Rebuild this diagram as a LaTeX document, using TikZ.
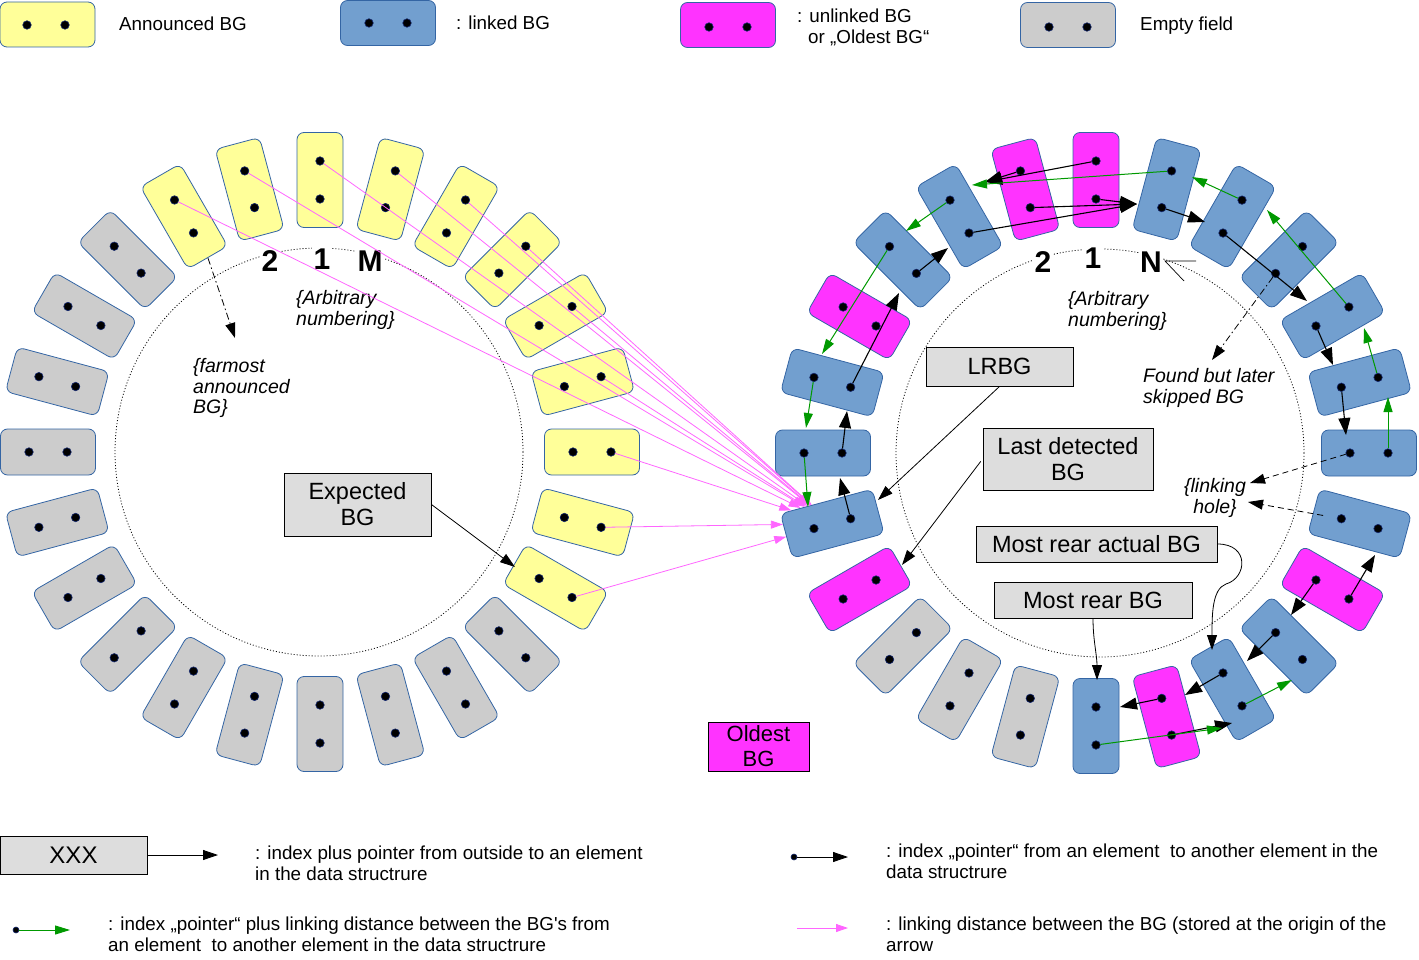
\documentclass[tikz,border=0pt]{standalone}
\usepackage{fontspec}
\setmainfont{Liberation Sans}
\usetikzlibrary{arrows.meta}
\definecolor{yel}{RGB}{255,255,153}
\definecolor{blu}{RGB}{114,159,207}
\definecolor{pnk}{RGB}{255,51,255}
\definecolor{gry}{RGB}{204,204,204}
\definecolor{bord}{RGB}{52,101,164}
\definecolor{boxg}{RGB}{221,221,221}
\definecolor{grn}{RGB}{0,153,0}
\definecolor{pline}{RGB}{255,102,255}
\definecolor{dotb}{RGB}{20,40,110}
\begin{document}
\begin{tikzpicture}[x=1pt,y=-1pt,
  elem/.style={draw=bord,line width=0.8pt,rounded corners=7pt,minimum width=95pt,minimum height=46pt,inner sep=0pt},
  dot/.style={circle,fill=black,draw=dotb,line width=0.6pt,inner sep=0pt,minimum size=8.5pt},
  lbox/.style={draw=bord,line width=0.8pt,rounded corners=7pt,minimum width=95pt,minimum height=45pt,inner sep=0pt},
  tbox/.style={draw=black,fill=boxg,line width=0.9pt,inner sep=0pt,align=center,font=\fontsize{23.5}{26}\selectfont},
  blk/.style={draw=black,line width=1.1pt,-{Triangle[length=17pt,width=12pt]}},
  gar/.style={draw=grn,line width=1pt,-{Triangle[length=15pt,width=9pt]}},
  par/.style={draw=pline,line width=0.8pt,-{Triangle[length=12pt,width=8pt]}},
  tar/.style={draw=black,line width=0.8pt,-{Triangle[length=15pt,width=10pt]}},
  dar/.style={tar,dash pattern=on 6pt off 4pt},
  ddar/.style={tar,dash pattern=on 7pt off 3pt on 1.5pt off 3pt},
  lbl/.style={inner sep=0pt,anchor=base west,font=\fontsize{18.8}{21}\selectfont},
  mlbl/.style={inner sep=0pt,anchor=north west,align=left,font=\fontsize{18.8}{20.5}\selectfont},
  ilbl/.style={inner sep=0pt,anchor=north west,align=left,font=\fontsize{19.5}{20.5}\selectfont\itshape},
  num/.style={inner sep=1.5pt,fill=white,font=\fontsize{30}{30}\selectfont\bfseries},
]
\useasboundingbox (0,0) rectangle (1419,960);

% ---------- top legend ----------
\node[lbox,fill=yel] (LgY) at (47.5,24.5) {};
\node[dot] (LgY-1) at (27,25) {};
\node[dot] (LgY-2) at (65,25) {};
\node[lbl] (LgYt) at (119,31) {Announced BG};
\node[lbox,fill=blu] (LgB) at (388,23) {};
\node[dot] (LgB-1) at (369,23) {};
\node[dot] (LgB-2) at (407,23) {};
\node[lbl] (LgBt) at (456,30) {: linked BG};
\node[lbox,fill=pnk] (LgP) at (728,25) {};
\node[dot] (LgP-1) at (709,27) {};
\node[dot] (LgP-2) at (747,27) {};
\node[mlbl] (LgPt) at (797,9) {: unlinked BG\\\hspace*{11pt}or „Oldest BG“};
\node[lbox,fill=gry] (LgG) at (1068,25) {};
\node[dot] (LgG-1) at (1049,27) {};
\node[dot] (LgG-2) at (1087,27) {};
\node[lbl] (LgGt) at (1140,31) {Empty field};

% ---------- dotted circles ----------
\draw[line width=0.8pt,dash pattern=on 1pt off 2pt] (319,452) circle[radius=204pt];
\draw[line width=0.8pt,dash pattern=on 1pt off 2pt] (1100,453) circle[radius=204pt];

% ---------- left ring ----------
\foreach \k/\c in {0/yel,1/yel,2/yel,3/yel,4/yel,5/yel,6/yel,7/yel,8/yel,9/gry,10/gry,11/gry,12/gry,13/gry,14/gry,15/gry,16/gry,17/gry,18/gry,19/gry,20/gry,21/gry,22/yel,23/yel}{
  \pgfmathsetmacro\a{15*\k}
  \pgfmathsetmacro\r{90-15*\k}
  \node[elem,fill=\c,rotate=\r] (L\k) at ({320+272*sin(\a)},{452-272*cos(\a)}) {};
  \node[dot] (L\k-o) at ({320+291*sin(\a)},{452-291*cos(\a)}) {};
  \node[dot] (L\k-i) at ({320+253*sin(\a)},{452-253*cos(\a)}) {};
}

% ---------- right ring ----------
\foreach \k/\c in {0/pnk,1/blu,2/blu,3/blu,4/blu,5/blu,6/blu,7/blu,8/pnk,9/blu,10/blu,11/pnk,12/blu,13/gry,14/gry,15/gry,16/pnk,17/blu,18/blu,19/blu,20/pnk,21/blu,22/blu,23/pnk}{
  \pgfmathsetmacro\a{15*\k}
  \pgfmathsetmacro\r{90-15*\k}
  \node[elem,fill=\c,rotate=\r] (R\k) at ({1096+273*sin(\a)},{453-273*cos(\a)}) {};
  \node[dot] (R\k-o) at ({1096+292*sin(\a)},{453-292*cos(\a)}) {};
  \node[dot] (R\k-i) at ({1096+254*sin(\a)},{453-254*cos(\a)}) {};
}

% ---------- numbers and labels ----------
\node[num] (nL2) at (270,261) {2};
\node[num] (nL1) at (322,259) {1};
\node[num] (nLM) at (370,261) {M};
\node[num] (nR2) at (1043,262) {2};
\node[num] (nR1) at (1093,258) {1};
\node[num] (nRN) at (1151,262) {N};

\node[ilbl] (farm) at (193,358.5) {\{farmost\\announced\\BG\}};
\node[ilbl] (arbL) at (296,290.5) {\{Arbitrary\\numbering\}};
\node[ilbl] (arbR) at (1068,291.5) {\{Arbitrary\\numbering\}};
\node[ilbl] (found) at (1143,368.5) {Found but later\\skipped BG};
\node[ilbl,anchor=north,align=center] (hole) at (1215,478.5) {\{linking\\hole\}};

% ---------- pointer boxes ----------
\node[tbox,minimum width=147pt,minimum height=63pt] (Exp) at (357.5,504.5) {Expected\\BG};
\node[tbox,minimum width=147pt,minimum height=39pt] (LRBG) at (999.5,366.5) {LRBG};
\node[tbox,minimum width=170pt,minimum height=62pt] (LDet) at (1068,459) {Last detected\\BG};
\node[tbox,minimum width=241pt,minimum height=36pt] (MRA) at (1096.5,544) {Most rear actual BG};
\node[tbox,minimum width=198pt,minimum height=36pt] (MRB) at (1093,600) {Most rear BG};
\node[tbox,fill=pnk,minimum width=101pt,minimum height=49pt,font=\fontsize{22}{25}\selectfont] (Old) at (758.5,746.5) {Oldest\\BG};

% ---------- arrow end points ----------
\coordinate (tA) at (985,182);
\coordinate (tB) at (1137,204);
\coordinate (tC) at (1205,222);
\coordinate (tD) at (1307,301);
\coordinate (tE) at (948,248);
\coordinate (tF) at (899,293);
\coordinate (tG) at (847,411);
\coordinate (tH) at (840,478);
\coordinate (tI) at (1333,365);
\coordinate (tJ) at (1346,435);
\coordinate (tK) at (1375,555);
\coordinate (tL) at (1291,615);
\coordinate (tM) at (1247,661);
\coordinate (tN) at (1185,695);
\coordinate (tO) at (1120,707);
\coordinate (tP) at (1232,723);
\coordinate (gA) at (972,185);
\coordinate (gB) at (1192,177);
\coordinate (gC) at (1267,210);
\coordinate (gD) at (906,231);
\coordinate (gE) at (822,354);
\coordinate (gF) at (806,428);
\coordinate (gG) at (808,507);
\coordinate (gH) at (1364,328);
\coordinate (gI) at (1388,397);
\coordinate (gJ) at (1292,680);
\coordinate (gK) at (1222,728);
\coordinate (hA) at (1250,483);
\coordinate (hB) at (1248,502);
\coordinate (fA) at (1212,360);
\coordinate (lA) at (235,338);
\coordinate (eA) at (515,567);
\coordinate (eB) at (878,500);
\coordinate (eC) at (902,565);
\coordinate (eD) at (1212,650);
\coordinate (eE) at (1097,680);
\coordinate (nA) at (1196,261);
\coordinate (nT) at (1165,261);
\coordinate (nB) at (1184,281);

% ---------- pink arrows ----------
\foreach \k in {22,23,0,1,2,3,4,5,6,7,8}{
  \draw[par] (L\k-o) -- (R17);
}

% ---------- black pointer arrows ----------
\draw[blk] (R23-o) -- (tA);
\draw[blk] (R0-o) -- (tA);
\draw[blk] (R22-i) -- (tB);
\draw[blk] (R23-i) -- (tB);
\draw[blk] (R0-i) -- (tB);
\draw[blk] (R1-i) -- (tC);
\draw[blk] (R2-i) -- (tD);
\draw[blk] (R21-i) -- (tE);
\draw[blk] (R19-i) -- (tF);
\draw[blk] (R18-i) -- (tG);
\draw[blk] (R17-i) -- (tH);
\draw[blk] (R4-i) -- (tI);
\draw[blk] (R5-i) -- (tJ);
\draw[blk] (R8-o) -- (tK);
\draw[blk] (R8-i) -- (tL);
\draw[blk] (R9-i) -- (tM);
\draw[blk] (R10-i) -- (tN);
\draw[blk] (R11-i) -- (tO);
\draw[blk] (R11-o) -- (tP);

% ---------- green arrows ----------
\draw[gar] (R1-o) -- (gA);
\draw[gar] (R2-o) -- (gB);
\draw[gar] (R4-o) -- (gC);
\draw[gar] (R22-o) -- (gD);
\draw[gar] (R21-o) -- (gE);
\draw[gar] (R19-o) -- (gF);
\draw[gar] (R18-o) -- (gG);
\draw[gar] (R5-o) -- (gH);
\draw[gar] (R6-o) -- (gI);
\draw[gar] (R10-o) -- (gJ);
\draw[gar] (R12-o) -- (gK);

% ---------- dashed arrows ----------
\draw[dar] (R6-i) -- (hA);
\draw[dar,shorten <=14pt] (R7-i) -- (hB);
\draw[ddar] (R3-i) -- (fA);
\draw[ddar] (L22.west) -- (lA);
\draw[line width=0.7pt] (nA) -- (nT) -- (nB);

% ---------- box pointers ----------
\draw[tar] (Exp.east) -- (eA);
\draw[tar] (LRBG.south) -- (eB);
\draw[tar,shorten <=3pt] (LDet.west) -- (eC);
\draw[tar] (MRA.east) .. controls (1250,544) and (1247,578) .. (1226,584) .. controls (1212,589) and (1212,615) .. (eD);
\draw[tar] (MRB.south) .. controls (1093,640) and (1097,655) .. (eE);

% ---------- bottom legend ----------
\node[tbox,minimum width=147pt,minimum height=38pt,font=\fontsize{24}{26}\selectfont] (XXX) at (73.5,855) {XXX};
\coordinate (xT) at (218,855);
\draw[tar] (XXX.east) -- (xT);
\node[mlbl] (t1) at (255,846) {: index plus pointer from outside to an element\\in the data structrure};

\node[dot,minimum size=6pt] (bD) at (794,857) {};
\coordinate (bT) at (848,857);
\draw[tar] (bD) -- (bT);
\node[mlbl] (t2) at (886,844) {: index „pointer“ from an element~ to another element in the\\data structrure};

\node[dot,minimum size=6pt] (gD0) at (16,930) {};
\coordinate (gT0) at (70,930);
\draw[gar] (gD0) -- (gT0);
\node[mlbl] (t3) at (108,917) {: index „pointer“ plus linking distance between the BG\textquotesingle s from\\an element~ to another element in the data structrure};

\coordinate (pS) at (797,928);
\coordinate (pT) at (848,928);
\draw[par] (pS) -- (pT);
\node[mlbl] (t4) at (886,917) {: linking distance between the BG (stored at the origin of the\\arrow};
\end{tikzpicture}
\end{document}
